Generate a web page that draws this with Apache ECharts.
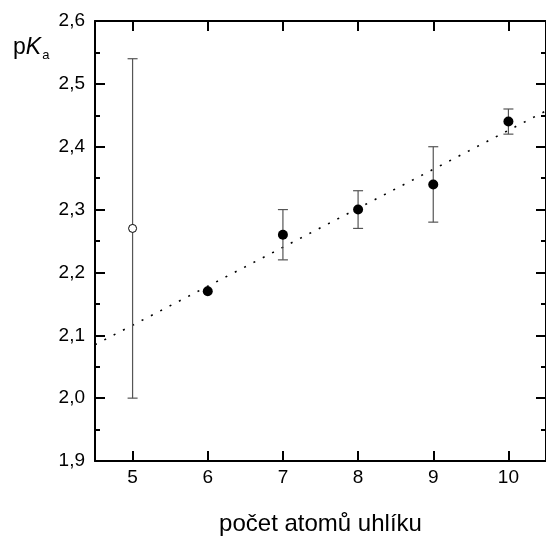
<!DOCTYPE html>
<html>
<head>
<meta charset="utf-8">
<script src="https://cdn.jsdelivr.net/npm/echarts@6/dist/echarts.min.js"></script>
<style>
  html, body { margin: 0; padding: 0; background: #fff; }
  #chart { width: 546px; height: 541px; }
</style>
</head>
<body>
<div id="chart"></div>
<script>
// Number of carbon atoms and measured pKa values
const carbonCount = [5, 6, 7, 8, 9, 10];
const pKaValues   = [2.27, 2.17, 2.26, 2.30, 2.34, 2.44];
const errLow      = [2.00, null, 2.22, 2.27, 2.28, 2.42];
const errHigh     = [2.54, null, 2.30, 2.33, 2.40, 2.46];
// Point excluded from the fit (drawn hollow)
const excludedCount = [5];
// Linear trend line end points
const trendX = [4.5, 10.5];
const trendY = [2.085, 2.457];

const xMin = 4.5, xMax = 10.5;
const yMin = 1.9, yMax = 2.6, yStep = 0.1;

const fillPts = [], hollowPts = [], errPts = [];
carbonCount.forEach((c, i) => {
  if (excludedCount.includes(c)) hollowPts.push([c, pKaValues[i]]);
  else fillPts.push([c, pKaValues[i]]);
  if (errLow[i] != null) errPts.push([c, errLow[i], errHigh[i]]);
});
const trendPts = trendX.map((x, i) => [x, trendY[i]]);

const font = '"Liberation Sans", Arial, sans-serif';
const frame = { show: true, onZero: false, lineStyle: { color: '#000', width: 2 } };
const majorTick = { show: true, inside: true, length: 10, lineStyle: { color: '#000', width: 2 } };
const minorTick = { show: true, splitNumber: 2, length: 5, lineStyle: { color: '#000', width: 2 } };

const chart = echarts.init(document.getElementById('chart'), null, { renderer: 'canvas' });
chart.setOption({
  animation: false,
  backgroundColor: '#fff',
  grid: { left: 95, top: 21, width: 454.5, height: 454 },
  xAxis: [
    {
      type: 'value', min: xMin, max: xMax, splitNumber: 6,
      axisLine: frame, axisTick: majorTick,
      axisLabel: { show: true, margin: 7, fontFamily: font, fontSize: 19, color: '#000',
                   showMinLabel: false, showMaxLabel: false },
      splitLine: { show: false },
      name: 'počet atomů uhlíku', nameLocation: 'middle', nameGap: 51,
      nameTextStyle: { fontFamily: font, fontSize: 24, color: '#000' }
    },
    {
      type: 'value', min: xMin, max: xMax, splitNumber: 6, position: 'top',
      axisLine: frame, axisTick: majorTick,
      axisLabel: { show: false }, splitLine: { show: false }
    }
  ],
  yAxis: [
    {
      type: 'value', min: yMin, max: yMax, interval: yStep,
      axisLine: frame, axisTick: majorTick, minorTick: minorTick,
      axisLabel: { show: true, margin: 10, fontFamily: font, fontSize: 19, color: '#000',
                   formatter: v => v.toFixed(1).replace('.', ',') },
      splitLine: { show: false }
    },
    {
      type: 'value', min: yMin, max: yMax, interval: yStep, position: 'right',
      axisLine: frame, axisTick: majorTick, minorTick: minorTick,
      axisLabel: { show: false }, splitLine: { show: false }
    }
  ],
  graphic: [{
    type: 'text', left: 13, top: 36,
    style: {
      text: '{p|p}{k|K}{a|a}',
      rich: {
        p: { fontFamily: font, fontSize: 23, fill: '#000' },
        k: { fontFamily: font, fontSize: 23, fontStyle: 'italic', fill: '#000' },
        a: { fontFamily: font, fontSize: 13, fill: '#000', padding: [15, 0, 0, 1] }
      }
    }
  }],
  series: [
    {
      type: 'line', data: trendPts, symbol: 'none', z: 1,
      lineStyle: { color: '#000', width: 1.6, type: [2, 8.5] }
    },
    {
      type: 'custom', data: errPts, z: 2,
      renderItem: (params, api) => {
        const top = api.coord([api.value(0), api.value(2)]);
        const bot = api.coord([api.value(0), api.value(1)]);
        const cap = 5;
        const st = { stroke: '#555', lineWidth: 1.2 };
        return {
          type: 'group',
          children: [
            { type: 'line', shape: { x1: top[0], y1: top[1], x2: bot[0], y2: bot[1] }, style: st },
            { type: 'line', shape: { x1: top[0] - cap, y1: top[1], x2: top[0] + cap, y2: top[1] }, style: st },
            { type: 'line', shape: { x1: bot[0] - cap, y1: bot[1], x2: bot[0] + cap, y2: bot[1] }, style: st }
          ]
        };
      }
    },
    {
      type: 'scatter', data: fillPts, symbol: 'circle', symbolSize: 10, z: 3,
      itemStyle: { color: '#000', opacity: 1 }
    },
    {
      type: 'scatter', data: hollowPts, symbol: 'circle', symbolSize: 8, z: 3,
      itemStyle: { color: '#fff', borderColor: '#000', borderWidth: 1, opacity: 1 }
    }
  ]
});
</script>
</body>
</html>
